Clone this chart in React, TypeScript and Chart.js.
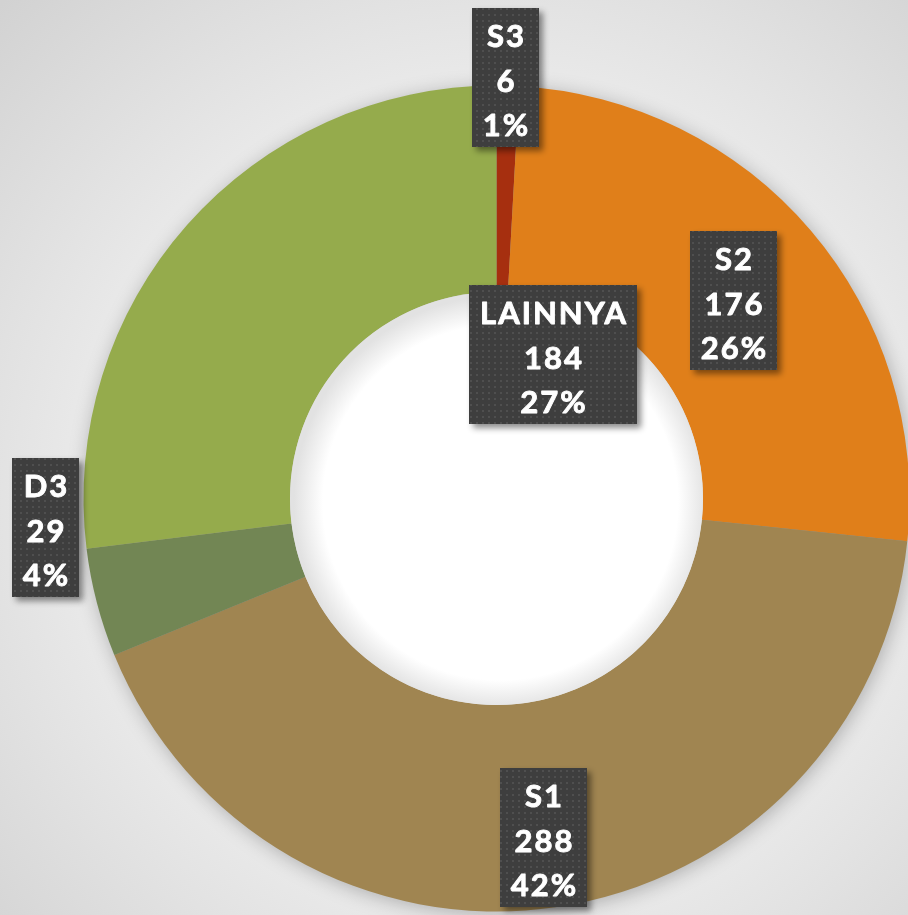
import { useEffect, useRef } from "react";
import { Chart, registerables } from "chart.js";

Chart.register(...registerables);

// ---- data ----
const categories = ["S3", "S2", "S1", "D3", "LAINNYA"];
const values = [6, 176, 288, 29, 184];
const colors = ["#a62f0f", "#e07f1a", "#a08551", "#728654", "#95ab4c"];

// ---- label layout (nudge from arc centroid, px) ----
const labelNudge: [number, number][] = [
  [0, -111],
  [1, 3],
  [3, 32],
  [-151, -49],
  [288, 61],
];

export default function App() {
  const ref = useRef<HTMLCanvasElement>(null);

  useEffect(() => {
    const canvas = ref.current!;
    const total = values.reduce((a, b) => a + b, 0);

    const pc = document.createElement("canvas");
    pc.width = 6;
    pc.height = 6;
    const pctx = pc.getContext("2d")!;
    pctx.fillStyle = "#3e3e3e";
    pctx.fillRect(0, 0, 6, 6);
    pctx.fillStyle = "#4f4f4f";
    pctx.fillRect(2, 2, 2, 2);

    const decor = {
      id: "decor",
      beforeDraw(chart: any) {
        const { ctx, width, height } = chart;
        const arc: any = chart.getDatasetMeta(0).data[0];
        const cx = arc ? arc.x : width / 2;
        const cy = arc ? arc.y : height / 2;
        const g = ctx.createRadialGradient(cx, cy, 0, cx, cy, 700);
        g.addColorStop(0, "#f8f8f8");
        g.addColorStop(0.6, "#e9e9e9");
        g.addColorStop(1, "#d2d2d2");
        ctx.save();
        ctx.fillStyle = g;
        ctx.fillRect(0, 0, width, height);
        ctx.restore();
      },
      beforeDatasetsDraw(chart: any) {
        const { ctx } = chart;
        const arc: any = chart.getDatasetMeta(0).data[0];
        const { x, y, outerRadius, innerRadius } = arc;
        ctx.save();
        ctx.shadowColor = "rgba(0,0,0,0.28)";
        ctx.shadowBlur = 20;
        ctx.shadowOffsetX = 2;
        ctx.shadowOffsetY = 3;
        ctx.beginPath();
        ctx.arc(x, y, outerRadius - 1, 0, Math.PI * 2);
        ctx.arc(x, y, innerRadius + 1, 0, Math.PI * 2, true);
        ctx.fillStyle = "#999";
        ctx.fill();
        ctx.restore();
      },
      afterDatasetsDraw(chart: any) {
        const { ctx } = chart;
        const arc: any = chart.getDatasetMeta(0).data[0];
        const { x, y, innerRadius } = arc;
        const g = ctx.createRadialGradient(x + 4, y + 4, 0, x + 4, y + 4, innerRadius);
        g.addColorStop(0, "#ffffff");
        g.addColorStop(0.86, "#ffffff");
        g.addColorStop(1, "#e2e2e2");
        ctx.save();
        ctx.beginPath();
        ctx.arc(x, y, innerRadius, 0, Math.PI * 2);
        ctx.fillStyle = g;
        ctx.fill();
        ctx.restore();
      },
      afterDraw(chart: any) {
        const { ctx } = chart;
        const meta = chart.getDatasetMeta(0);
        const pattern = ctx.createPattern(pc, "repeat");
        ctx.save();
        ctx.font = "bold 31px Lato";
        (ctx as any).letterSpacing = "2px";
        meta.data.forEach((arc: any, i: number) => {
          const mid = (arc.startAngle + arc.endAngle) / 2;
          const r = (arc.innerRadius + arc.outerRadius) / 2;
          const cx = arc.x + Math.cos(mid) * r + labelNudge[i][0];
          const cy = arc.y + Math.sin(mid) * r + labelNudge[i][1];
          const pct = Math.round((values[i] / total) * 100);
          const lines = [categories[i], String(values[i]), pct + "%"];
          const tw = Math.max(...lines.map((l) => ctx.measureText(l).width));
          const bw = Math.round(tw + 20);
          const bh = 139;
          const left = Math.round(cx - bw / 2);
          const top = Math.round(cy - bh / 2);
          ctx.save();
          ctx.shadowColor = "rgba(0,0,0,0.45)";
          ctx.shadowBlur = 6;
          ctx.shadowOffsetX = 4;
          ctx.shadowOffsetY = 4;
          ctx.fillStyle = pattern;
          ctx.fillRect(left, top, bw, bh);
          ctx.restore();
          ctx.fillStyle = "#ffffff";
          ctx.strokeStyle = "#ffffff";
          ctx.lineWidth = 0.9;
          ctx.lineJoin = "round";
          ctx.textAlign = "center";
          ctx.textBaseline = "alphabetic";
          lines.forEach((l, j) => {
            const tx = left + bw / 2 + 1;
            const ty = top + 39 + j * 44.5;
            ctx.fillText(l, tx, ty);
            ctx.strokeText(l, tx, ty);
          });
        });
        ctx.restore();
      },
    };

    const chart = new Chart(canvas, {
      type: "doughnut",
      data: {
        labels: categories,
        datasets: [
          {
            data: values,
            backgroundColor: colors,
            borderWidth: 0,
            hoverOffset: 0,
          },
        ],
      },
      options: {
        responsive: false,
        animation: false,
        radius: 413,
        cutout: "50%",
        layout: { padding: { left: 85, right: 0, top: 82, bottom: 0 } },
        plugins: {
          legend: { display: false },
          tooltip: { enabled: false },
        },
        events: [],
      } as any,
      plugins: [decor],
    });
    return () => chart.destroy();
  }, []);

  return (
    <div style={{ position: "fixed", left: 0, top: 0, width: 908, height: 915, overflow: "hidden" }}>
      <canvas ref={ref} width={908} height={915} style={{ display: "block" }} />
    </div>
  );
}
